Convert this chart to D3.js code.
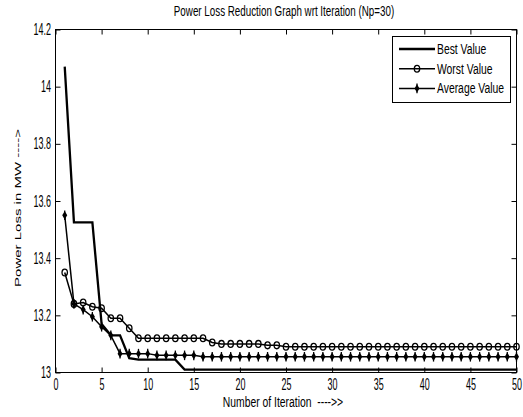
<!DOCTYPE html>
<meta charset="utf-8">
<style>
body { margin: 0; background: #fff; }
svg { display: block; }
text { font-family: "Liberation Sans", Arial, sans-serif; fill: #000; }
.domain { display: none; }
</style>
<svg width="523" height="417"></svg>
<script src="https://d3js.org/d3.v7.min.js"></script>
<script>

// values, iterations 1..50
var iterations = [1,2,3,4,5,6,7,8,9,10,11,12,13,14,15,16,17,18,19,20,21,22,23,24,25,
                  26,27,28,29,30,31,32,33,34,35,36,37,38,39,40,41,42,43,44,45,46,47,48,49,50];
var bestValue = [14.07,13.525,13.525,13.525,13.17,13.13,13.13,13.05,13.045,13.045,
                 13.045,13.045,13.045,13.01,13.01,13.01,13.01,13.01,13.01,13.01,
                 13.01,13.01,13.01,13.01,13.01,13.01,13.01,13.01,13.01,13.01,
                 13.01,13.01,13.01,13.01,13.01,13.01,13.01,13.01,13.01,13.01,
                 13.01,13.01,13.01,13.01,13.01,13.01,13.01,13.01,13.01,13.01];
var worstValue = [13.35,13.24,13.245,13.23,13.225,13.19,13.19,13.155,13.12,13.12,
                  13.12,13.12,13.12,13.12,13.12,13.12,13.105,13.1,13.1,13.1,
                  13.1,13.1,13.095,13.095,13.09,13.09,13.09,13.09,13.09,13.09,
                  13.09,13.09,13.09,13.09,13.09,13.09,13.09,13.09,13.09,13.09,
                  13.09,13.09,13.09,13.09,13.09,13.09,13.09,13.09,13.09,13.09];
var averageValue = [13.55,13.24,13.22,13.195,13.16,13.13,13.066,13.066,13.066,13.066,
                    13.06,13.06,13.06,13.06,13.06,13.055,13.055,13.055,13.055,13.055,
                    13.055,13.055,13.055,13.055,13.055,13.055,13.055,13.055,13.055,13.055,
                    13.055,13.055,13.055,13.055,13.055,13.055,13.055,13.055,13.055,13.055,
                    13.055,13.055,13.055,13.055,13.055,13.055,13.055,13.055,13.055,13.055];
var xTicks = [0,5,10,15,20,25,30,35,40,45,50];
var yTicks = [13,13.2,13.4,13.6,13.8,14,14.2];
var yTickLabels = ["13","13.2","13.4","13.6","13.8","14","14.2"];
var seriesNames = ["Best Value", "Worst Value", "Average Value"];

var svg = d3.select("svg");
var plotLeft = 55.5, plotRight = 516.5, plotTop = 29.5, plotBottom = 372.5;

var x = d3.scaleLinear().domain([0, 50]).range([plotLeft, plotRight]);
var y = d3.scaleLinear().domain([13, 14.2]).range([plotBottom, plotTop]);

// squeeze text horizontally, the source picture is narrow
function squash(sel, s) {
  sel.each(function() {
    var w = this.getComputedTextLength();
    d3.select(this).attr("textLength", w * s).attr("lengthAdjust", "spacingAndGlyphs");
  });
}

// axes, ticks pointing inwards like matlab
var gx = svg.append("g").attr("transform", "translate(0," + plotBottom + ")")
  .call(d3.axisBottom(x).tickValues(xTicks).tickSizeInner(-5).tickSizeOuter(0).tickPadding(6));
svg.append("g").attr("transform", "translate(0," + plotTop + ")")
  .call(d3.axisTop(x).tickValues(xTicks).tickSizeInner(-5).tickSizeOuter(0).tickFormat(""));
var gy = svg.append("g").attr("transform", "translate(" + plotLeft + ",0)")
  .call(d3.axisLeft(y).tickValues(yTicks).tickSizeInner(-5).tickSizeOuter(0).tickPadding(4.5)
    .tickFormat(function(d, i) { return yTickLabels[i]; }));
svg.append("g").attr("transform", "translate(" + plotRight + ",0)")
  .call(d3.axisRight(y).tickValues(yTicks).tickSizeInner(-5).tickSizeOuter(0).tickFormat(""));

svg.selectAll(".tick line").attr("stroke", "#000");
svg.selectAll("g").attr("font-family", null).attr("font-size", null);
gx.selectAll("text").style("font-size", "16px").call(squash, 0.56);
gy.selectAll("text").style("font-size", "16px").call(squash, 0.56);

svg.append("rect")
  .attr("x", plotLeft).attr("y", plotTop)
  .attr("width", plotRight - plotLeft).attr("height", plotBottom - plotTop)
  .attr("fill", "none").attr("stroke", "#000");

// lines
var line = d3.line()
  .x(function(d, i) { return x(iterations[i]); })
  .y(function(d) { return y(d); });

var plot = svg.append("g");

plot.append("path").datum(worstValue)
  .attr("d", line).attr("fill", "none").attr("stroke", "#000").attr("stroke-width", 1.5);
plot.append("path").datum(averageValue)
  .attr("d", line).attr("fill", "none").attr("stroke", "#000").attr("stroke-width", 1.5);
plot.append("path").datum(bestValue)
  .attr("d", line).attr("fill", "none").attr("stroke", "#000").attr("stroke-width", 2.3);

function circleMark(g) {
  g.append("ellipse").attr("rx", 2.7).attr("ry", 3.4)
    .attr("fill", "none").attr("stroke", "#000").attr("stroke-width", 1.3);
}
function starMark(g) {
  g.append("path").attr("d", "M0,-4.2L2.5,0L0,4.2L-2.5,0Z").attr("fill", "#000");
  g.append("line").attr("y1", -4.8).attr("y2", 4.8).attr("stroke", "#000").attr("stroke-width", 1.3);
}

plot.selectAll(".worst").data(worstValue).enter().append("g")
  .attr("class", "worst")
  .attr("transform", function(d, i) { return "translate(" + x(iterations[i]) + "," + y(d) + ")"; })
  .each(function() { circleMark(d3.select(this)); });

plot.selectAll(".avg").data(averageValue).enter().append("g")
  .attr("class", "avg")
  .attr("transform", function(d, i) { return "translate(" + x(iterations[i]) + "," + y(d) + ")"; })
  .each(function() { starMark(d3.select(this)); });

// titles
var title = svg.append("text")
  .attr("x", 284).attr("y", 16).attr("text-anchor", "middle")
  .style("font-size", "14px")
  .text("Power Loss Reduction Graph wrt Iteration (Np=30)");
squash(title, 0.7);

var xlab = svg.append("text")
  .attr("x", 283).attr("y", 407).attr("text-anchor", "middle")
  .style("font-size", "14px")
  .attr("xml:space", "preserve")
  .text("Number of Iteration  ---->>");
squash(xlab, 0.74);

svg.append("text")
  .attr("transform", "translate(21,208) scale(0.65,1) rotate(-90)")
  .attr("text-anchor", "middle")
  .style("font-size", "15px")
  .text("Power Loss in MW ---->");

// legend
var legend = svg.append("g");
legend.append("rect")
  .attr("x", 392.5).attr("y", 36.5).attr("width", 118).attr("height", 66)
  .attr("fill", "#fff").attr("stroke", "#000");

var rows = legend.selectAll(".row").data(seriesNames).enter().append("g")
  .attr("class", "row")
  .attr("transform", function(d, i) { return "translate(0," + (49 + i * 19.7) + ")"; });

rows.append("line").attr("x1", 399).attr("x2", 435)
  .attr("stroke", "#000").attr("stroke-width", function(d, i) { return i === 0 ? 2.3 : 1.5; });
rows.filter(function(d, i) { return i === 1; }).append("g")
  .attr("transform", "translate(417,0)").each(function() { circleMark(d3.select(this)); });
rows.filter(function(d, i) { return i === 2; }).append("g")
  .attr("transform", "translate(417,0)").each(function() { starMark(d3.select(this)); });

var ltext = rows.append("text").attr("x", 437).attr("y", 5)
  .style("font-size", "14px")
  .text(function(d) { return d; });
squash(ltext, 0.74);

</script>
